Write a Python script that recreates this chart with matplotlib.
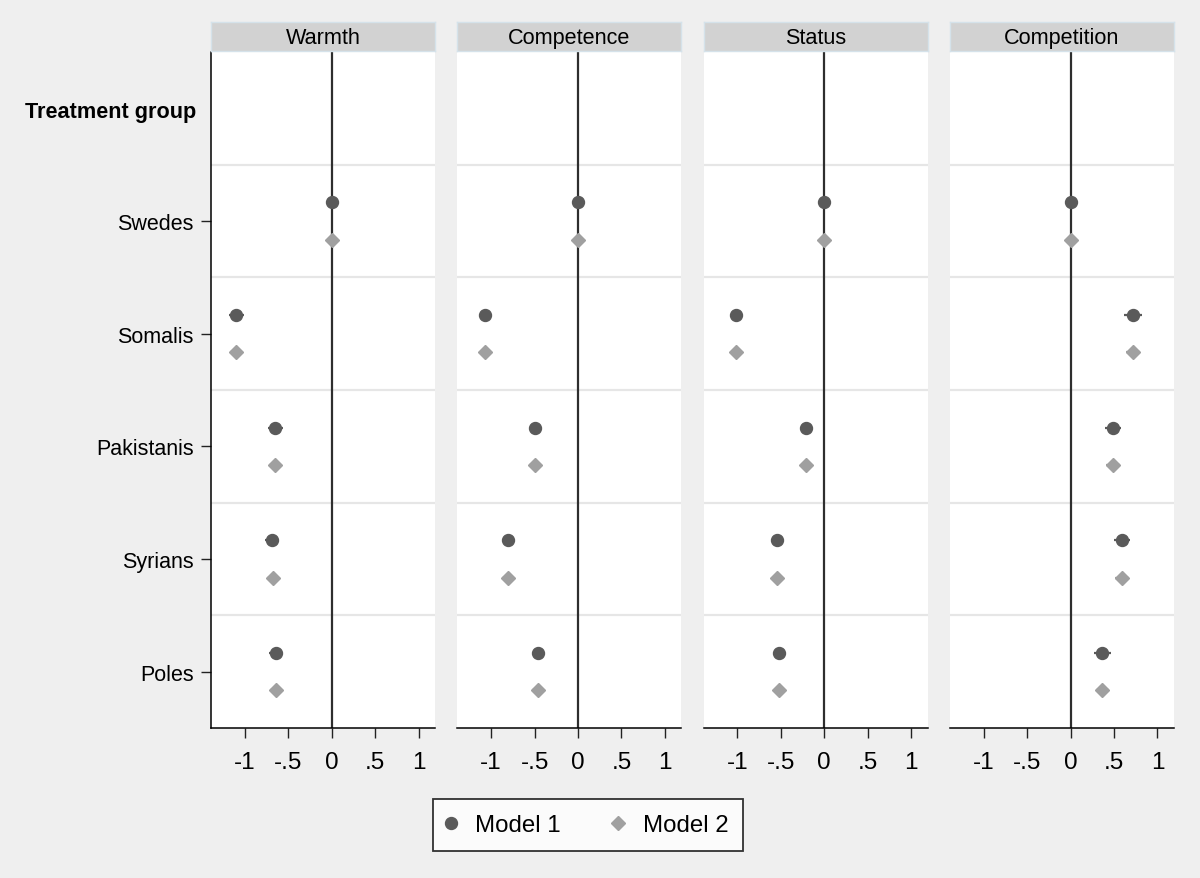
import matplotlib
matplotlib.use("Agg")
import matplotlib.pyplot as plt
from matplotlib.lines import Line2D

plt.rcParams['font.family'] = ['Liberation Sans', 'DejaVu Sans']

# data
groups = ["Swedes", "Somalis", "Pakistanis", "Syrians", "Poles"]
panels = ["Warmth", "Competence", "Status", "Competition"]

warmth_m1 = [0, -1.10, -0.65, -0.69, -0.645]
warmth_m2 = [0, -1.10, -0.65, -0.68, -0.645]
competence_m1 = [0, -1.07, -0.50, -0.81, -0.465]
competence_m2 = [0, -1.07, -0.50, -0.81, -0.465]
status_m1 = [0, -1.015, -0.207, -0.54, -0.52]
status_m2 = [0, -1.015, -0.207, -0.54, -0.52]
competition_m1 = [0, 0.72, 0.49, 0.595, 0.365]
competition_m2 = [0, 0.72, 0.49, 0.596, 0.367]

# half-widths of the confidence intervals
warmth_ci1 = [0, 0.085, 0.086, 0.083, 0.08]
warmth_ci2 = [0, 0.07, 0.07, 0.07, 0.07]
competence_ci1 = [0, 0.06, 0.06, 0.06, 0.06]
competence_ci2 = [0, 0.06, 0.06, 0.06, 0.06]
status_ci1 = [0, 0.06, 0.06, 0.06, 0.06]
status_ci2 = [0, 0.06, 0.06, 0.06, 0.06]
competition_ci1 = [0, 0.10, 0.095, 0.092, 0.095]
competition_ci2 = [0, 0.08, 0.08, 0.08, 0.08]

m1 = [warmth_m1, competence_m1, status_m1, competition_m1]
m2 = [warmth_m2, competence_m2, status_m2, competition_m2]
ci1 = [warmth_ci1, competence_ci1, status_ci1, competition_ci1]
ci2 = [warmth_ci2, competence_ci2, status_ci2, competition_ci2]

xticks = [-1, -0.5, 0, 0.5, 1]
xticklabels = ["-1", "-.5", "0", ".5", "1"]

bg = "#efefef"
c1 = "#5a5a5a"
c2 = "#a0a0a0"

fig = plt.figure(figsize=(12, 8.79), dpi=100, facecolor=bg)

W, H = 1200.0, 879.0
left0, pw, step = 211, 224, 246.3
top, bottom = 53, 729
offs = 0.165
rows = [i + 1 for i in range(len(groups))]

for k, name in enumerate(panels):
    x0 = left0 + k * step
    ax = fig.add_axes([x0 / W, 1 - bottom / H, pw / W, (bottom - top) / H])
    ax.set_facecolor("white")
    ax.set_xlim(-1.39, 1.19)
    ax.set_ylim(5.5, -0.5)

    for g in [0.5, 1.5, 2.5, 3.5, 4.5]:
        ax.axhline(g, color="#e6e6e6", lw=1.6, zorder=1)
    ax.axvline(0, color="#2e2e2e", lw=1.6, zorder=2)

    y1 = [r - offs for r in rows]
    y2 = [r + offs for r in rows]
    ax.errorbar(m1[k], y1, xerr=ci1[k], fmt="o", color=c1, ms=8.6,
                elinewidth=1.6, capsize=0, zorder=4)
    ax.errorbar(m2[k], y2, xerr=ci2[k], fmt="D", color=c2, ms=7.5,
                elinewidth=1.6, ecolor=c2, capsize=0, zorder=4)

    ax.set_xticks(xticks)
    ax.set_xticklabels(xticklabels, fontsize=17.5)
    ax.tick_params(axis="x", length=7.5, width=1.0, pad=9, color="#222222")
    for s in ["top", "right"]:
        ax.spines[s].set_visible(False)
    ax.spines["bottom"].set_linewidth(1.1)
    if k == 0:
        ax.set_yticks(rows)
        ax.set_yticklabels(groups, fontsize=15.5)
        ax.tick_params(axis="y", length=7.5, width=1.0, pad=5, color="#222222")
        ax.spines["left"].set_linewidth(1.1)
        ax.text(-0.068, 0.03, "Treatment group", transform=ax.get_yaxis_transform(),
                ha="right", va="center", fontsize=15.6, fontweight="bold")
    else:
        ax.set_yticks([])
        ax.spines["left"].set_visible(False)

    # header strip
    sax = fig.add_axes([x0 / W, 1 - 52 / H, pw / W, 29 / H])
    sax.set_facecolor("#d2d2d2")
    sax.set_xticks([])
    sax.set_yticks([])
    for s in sax.spines.values():
        s.set_color("#d5e2ea")
        s.set_linewidth(1.0)
    sax.text(0.5, 0.46, name, ha="center", va="center", fontsize=15.6,
             transform=sax.transAxes)

handles = [
    Line2D([], [], marker="o", ls="none", color=c1, ms=8.6),
    Line2D([], [], marker="D", ls="none", color=c2, ms=7.5),
]
leg = fig.legend(handles, ["Model 1", "Model 2"], ncol=2, loc="center",
                 bbox_to_anchor=(588 / W, 1 - 826 / H), fontsize=17.3,
                 frameon=True, fancybox=False, edgecolor="black",
                 handlelength=0.27, handletextpad=0.88, columnspacing=2.24,
                 borderpad=0.63)
leg.get_frame().set_linewidth(1.3)
leg.get_frame().set_facecolor("white")

fig.savefig("out.png", dpi=100, facecolor=bg)
